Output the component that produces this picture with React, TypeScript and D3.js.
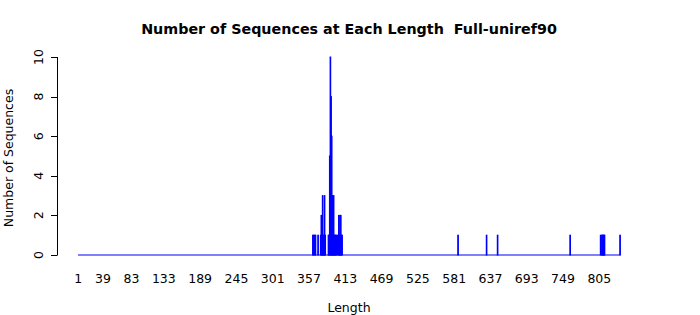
import React from "react";
import * as d3 from "d3";

// Non-zero counts (sequence length -> number of sequences)
const lengths = [363, 364, 366, 367, 371, 375, 376, 377, 378, 379, 380, 381, 382, 387, 388, 389, 390, 391, 392, 393, 394, 395, 396, 397, 398, 399, 401, 403, 404, 405, 406, 407, 408, 587, 631, 648, 760, 807, 809, 810, 811, 812, 813, 837];
const counts = [1, 1, 1, 1, 1, 1, 2, 1, 3, 1, 1, 3, 1, 1, 1, 5, 10, 8, 6, 3, 2, 3, 1, 1, 1, 1, 1, 2, 1, 2, 2, 1, 1, 1, 1, 1, 1, 1, 1, 1, 1, 1, 1, 1];
const maxLength = 837;
const xTickLabels = [1, 39, 83, 133, 189, 245, 301, 357, 413, 469, 525, 581, 637, 693, 749, 805];
const yTicks = [0, 2, 4, 6, 8, 10];
const title = "Number of Sequences at Each Length  Full-uniref90";

export default function App() {
  const W = 700, H = 315;
  const x = d3.scaleLinear().domain([0, maxLength]).range([78, 620.4]);
  const y = d3.scaleLinear().domain([0, 10]).range([255, 57]);
  const font = "DejaVu Sans, sans-serif";
  return (
    <svg width={W} height={H} style={{ position: "absolute", left: 0, top: 0, background: "#fff" }} fontFamily={font}>
      <rect x={0} y={0} width={W} height={H} fill="#fff" />
      <text x={349} y={34} textAnchor="middle" fontWeight="bold" fontSize={14.3} style={{ whiteSpace: "pre" }}>{title}</text>
      {/* baseline of zero-height bars */}
      <line x1={x(0)} x2={x(maxLength)} y1={y(0)} y2={y(0)} stroke="#0000ff" strokeWidth={1} />
      {lengths.map((l, i) => (
        <rect key={l} x={x(l - 1)} y={y(counts[i])} width={x(l) - x(l - 1)} height={y(0) - y(counts[i])} fill="#0000ff" stroke="#0000ff" strokeWidth={1} />
      ))}
      {/* y axis */}
      <line x1={57.5} x2={57.5} y1={y(0)} y2={y(10)} stroke="#000" />
      {yTicks.map((t) => (
        <g key={t}>
          <line x1={51} x2={57.5} y1={Math.round(y(t)) + 0.5} y2={Math.round(y(t)) + 0.5} stroke="#000" />
          <text transform={`translate(42.5,${y(t)}) rotate(-90)`} textAnchor="middle" fontSize={12.5}>{t}</text>
        </g>
      ))}
      <text transform={`translate(13,158) rotate(-90)`} textAnchor="middle" fontSize={12.5}>Number of Sequences</text>
      {xTickLabels.map((t) => (
        <text key={t} x={x(t - 0.5)} y={283} textAnchor="middle" fontSize={12.5}>{t}</text>
      ))}
      <text x={349} y={312} textAnchor="middle" fontSize={12.5}>Length</text>
    </svg>
  );
}
